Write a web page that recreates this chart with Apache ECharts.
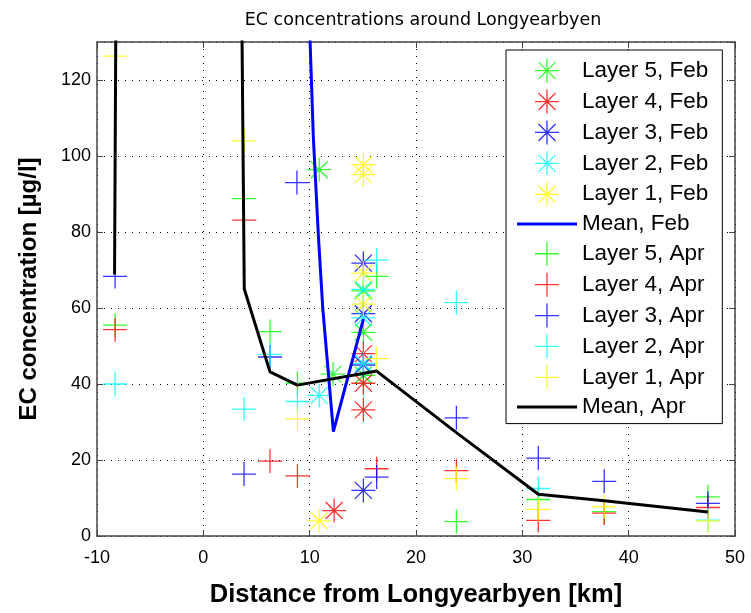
<!DOCTYPE html>
<html>
<head>
<meta charset="utf-8">
<script src="https://cdn.jsdelivr.net/npm/echarts@6/dist/echarts.min.js"></script>
<style>
html,body{margin:0;padding:0;background:#fff;}
#chart{width:751px;height:613px;}
</style>
</head>
<body>
<div id="chart"></div>
<script>
// ---- data (distance km, EC µg/l) ----
const febLayer5 = [[10.9,96.4],[12.2,42.6],[15.05,64.5],[15.05,53.6],[15.05,42.3]];
const febLayer4 = [[12.3,6.7],[15.05,48.0],[15.05,40.2],[15.05,33.2]];
const febLayer3 = [[15.05,71.8],[15.05,58.5],[15.05,45.0],[15.05,12.0]];
const febLayer2 = [[10.9,37.0],[15.05,64.9],[15.05,57.4],[15.05,45.4]];
const febLayer1 = [[15.05,97.7],[15.05,95.1],[15.05,69.2],[15.05,61.0],[10.9,4.0]];
const febMean   = [[9.55,170],[10.35,104.7],[10.82,79],[11.23,60],[12.23,27.5],[15.05,57.1]];

const aprLayer5 = [[-8.3,55.5],[3.85,88.8],[6.27,53.8],[8.85,40.2],[16.3,68.3],[23.8,3.8],[31.5,9.6],[37.7,6.4],[47.45,10.3]];
const aprLayer4 = [[-8.3,54.3],[3.85,83.1],[6.27,19.7],[8.85,15.8],[16.3,17.7],[23.8,17.2],[31.5,4.1],[37.7,6.0],[47.45,7.5]];
const aprLayer3 = [[-8.3,68.3],[3.83,16.3],[6.27,47.1],[8.8,93.0],[16.3,15.5],[23.8,31.1],[31.5,20.5],[37.7,14.4],[47.45,8.6]];
const aprLayer2 = [[-8.3,40.0],[3.83,33.4],[6.27,47.8],[8.85,35.4],[16.3,72.6],[23.8,61.4],[31.5,12.5],[47.45,4.2]];
const aprLayer1 = [[-8.3,126.3],[3.85,104.0],[8.85,30.8],[16.3,46.7],[23.8,15.1],[31.5,7.0],[37.7,7.7],[47.45,4.0]];
const aprMean   = [[-8.35,68.8],[-3.9,2500],[3.85,65.0],[6.27,43.2],[8.85,39.7],[16.3,43.4],[23.8,27.2],[31.5,11.0],[37.7,9.3],[47.45,6.3]];

const seriesNames = ['Layer 5, Feb','Layer 4, Feb','Layer 3, Feb','Layer 2, Feb','Layer 1, Feb','Mean, Feb',
                     'Layer 5, Apr','Layer 4, Apr','Layer 3, Apr','Layer 2, Apr','Layer 1, Apr','Mean, Apr'];
const seriesData = [febLayer5,febLayer4,febLayer3,febLayer2,febLayer1,febMean,
                    aprLayer5,aprLayer4,aprLayer3,aprLayer2,aprLayer1,aprMean];
const layerColors = ['#00ff00','#ff0000','#0000ff','#00ffff','#ffff00'];
const xTicks = [-10,0,10,20,30,40,50];
const yTicks = [0,20,40,60,80,100,120];

const STAR = 'path://M0,12H24M12,0V24M3.5,3.5L20.5,20.5M3.5,20.5L20.5,3.5';
const PLUS = 'path://M0,12H24M12,0V24';
const LINE_ICON = 'path://M0,0H60V3H0Z';
const FONT = 'Liberation Sans, Arial, sans-serif';

function markerSeries(i, symbol, color){
  return {
    name: seriesNames[i], type:'scatter', data: seriesData[i],
    symbol: symbol, symbolSize: 24, clip: true,
    itemStyle:{color: color, borderColor: color, borderWidth: 1.3},
    emphasis:{disabled:true}, animation:false
  };
}
function meanSeries(i, color){
  return {
    name: seriesNames[i], type:'line', data: seriesData[i],
    symbol:'none', clip:true, lineStyle:{color: color, width: 3},
    itemStyle:{color: color, borderColor: color}, emphasis:{disabled:true}, animation:false
  };
}

const series = [];
for (let i=0;i<5;i++) series.push(markerSeries(i, STAR, layerColors[i]));
series.push(meanSeries(5, '#0000ff'));
for (let i=0;i<5;i++) series.push(markerSeries(6+i, PLUS, layerColors[i]));
series.push(meanSeries(11, '#000000'));

const legendData = seriesNames.map((n, i) =>
  seriesData[i] === febMean || seriesData[i] === aprMean
    ? {name: n, icon: LINE_ICON, itemStyle:{borderWidth:0}}
    : {name: n});

const frame = {show:true, onZero:false, lineStyle:{color:'#444', width:1.5}};
const dotted = {show:true, lineStyle:{color:'#000', width:1, type:[1,6]}};
const ticks = {show:true, inside:true, length:6, lineStyle:{color:'#444'}};

const chart = echarts.init(document.getElementById('chart'), null, {renderer:'canvas'});
chart.setOption({
  backgroundColor:'#fff',
  animation:false,
  title:{
    text:'EC concentrations around Longyearbyen', left: 418, top: 6, textAlign:'center',
    textStyle:{fontFamily:'DejaVu Sans, sans-serif', fontSize: 17.5, fontWeight:'normal', color:'#000'}
  },
  grid:{left:97, right:16, top:42, bottom:70, containLabel:false},
  legend:{
    orient:'vertical', left:506, top:50, selectedMode:false,
    padding:[8,14,5,11], itemWidth:60, itemHeight:24, itemGap:5.6, itemTextGap:5,
    backgroundColor:'#fff', borderColor:'#000', borderWidth:1,
    textStyle:{fontFamily: FONT, fontSize:22.5, color:'#000'},
    itemStyle:{borderWidth:1.3},
    data: legendData
  },
  xAxis:[
    {type:'value', min:xTicks[0], max:xTicks[xTicks.length-1], interval:10, position:'bottom',
     name:'Distance from Longyearbyen [km]', nameLocation:'middle', nameGap:46,
     nameTextStyle:{fontFamily:FONT, fontSize:25.5, fontWeight:'bold', color:'#000'},
     axisLine:frame, axisTick:ticks, splitLine:dotted,
     axisLabel:{fontFamily:FONT, fontSize:18, color:'#000', margin:13}},
    {type:'value', min:xTicks[0], max:xTicks[xTicks.length-1], interval:10, position:'top',
     axisLine:frame, axisTick:ticks, splitLine:{show:false}, axisLabel:{show:false}}
  ],
  yAxis:[
    {type:'value', min:0, max:130, interval:20, position:'left',
     name:'EC concentration [µg/l]', nameLocation:'middle', nameGap:56, nameRotate:90,
     nameTextStyle:{fontFamily:FONT, fontSize:24, fontWeight:'bold', color:'#000'},
     axisLine:frame, axisTick:ticks, splitLine:dotted,
     axisLabel:{fontFamily:FONT, fontSize:18, color:'#000', margin:6, showMaxLabel:false,
       formatter: v => (yTicks.indexOf(v) >= 0 ? String(v) : '')}},
    {type:'value', min:0, max:130, interval:20, position:'right',
     axisLine:frame, axisTick:ticks, splitLine:{show:false}, axisLabel:{show:false}}
  ],
  series: series
});
</script>
</body>
</html>
